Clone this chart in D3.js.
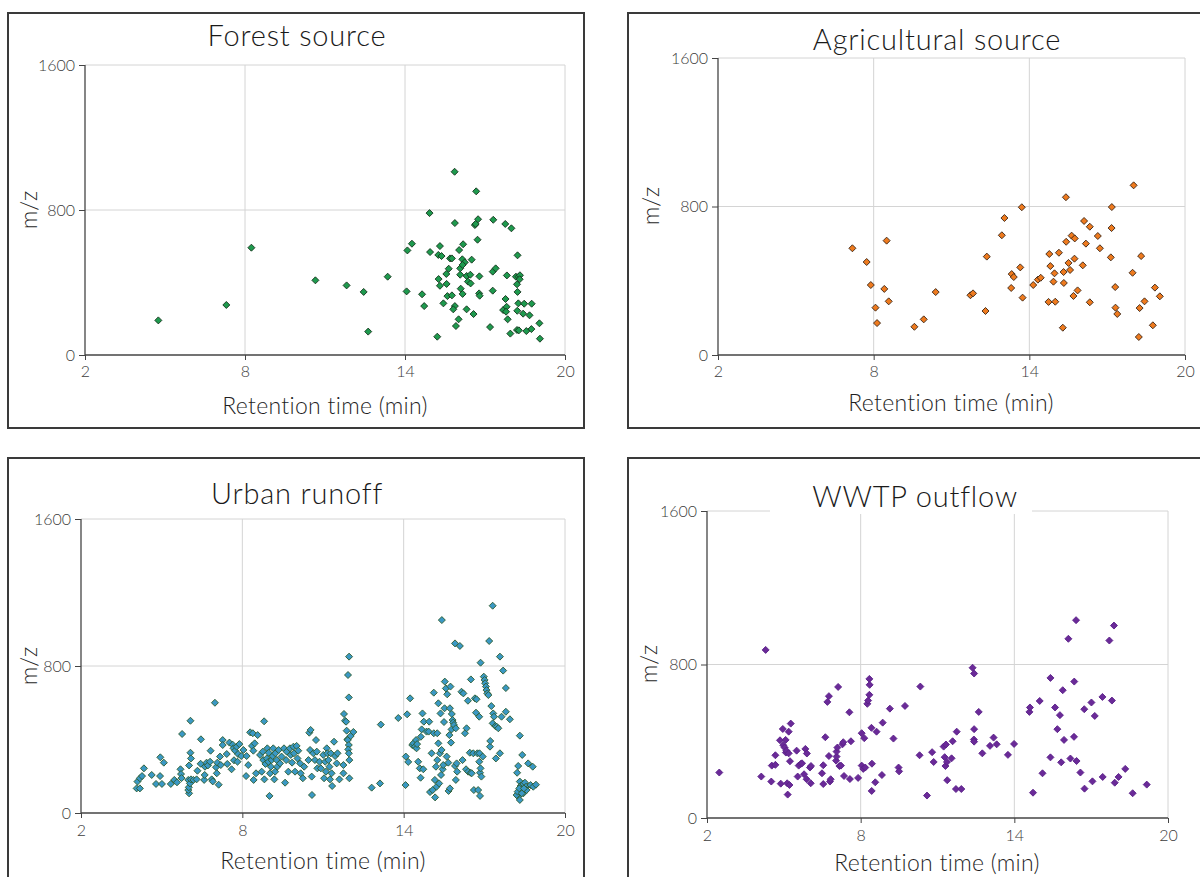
<!DOCTYPE html>
<html>
<head>
<meta charset="utf-8">
<script src="https://cdn.jsdelivr.net/npm/d3@7/dist/d3.min.js"></script>
<style>
  html, body { margin: 0; padding: 0; background: #fff; }
  svg { display: block; }
  text { font-family: Lato, "Open Sans", sans-serif; }
</style>
</head>
<body>
<svg id="chart" width="1200" height="877"></svg>
<script>
// ---------- DATA (retention time in min, m/z) ----------
const xTicks = [2, 8, 14, 20];
const yTicks = [0, 800, 1600];
const xLabel = "Retention time (min)";
const yLabel = "m/z";
const titles = ["Forest source", "Agricultural source", "Urban runoff", "WWTP outflow"];

const forestPoints = [
[4.75,191],[7.30,276],[8.24,592],[10.64,412],[11.81,384],[12.45,348],[12.62,129],[13.35,432],
[14.06,351],[14.09,577],[14.26,614],[14.64,335],[14.72,270],[14.92,783],[14.94,568],[15.21,101],
[15.26,419],[15.31,601],[15.25,552],[15.37,546],[15.31,382],[15.44,285],[15.55,447],[15.56,392],
[15.64,476],[15.59,325],[15.69,533],[15.76,533],[15.76,329],[15.86,1011],[15.87,728],[15.87,270],
[15.81,252],[15.91,160],[16.01,197],[16.03,579],[16.18,611],[16.07,478],[16.15,528],[16.24,511],
[16.16,497],[16.07,443],[16.09,366],[16.16,337],[16.31,252],[16.31,436],[16.36,405],[16.45,443],
[16.46,395],[16.50,526],[16.57,226],[16.62,717],[16.65,723],[16.67,903],[16.74,749],[16.72,636],
[16.79,434],[16.78,340],[16.80,327],[17.19,154],[17.29,460],[17.40,478],[17.29,355],[17.31,746],
[17.76,723],[17.99,699],[17.77,309],[17.82,439],[17.68,248],[17.81,266],[17.79,239],[17.85,197],
[17.95,118],[18.22,550],[18.16,432],[18.26,432],[18.31,440],[18.30,418],[18.20,390],[18.22,348],
[18.25,285],[18.47,283],[18.75,283],[18.21,244],[18.43,228],[18.67,219],[18.20,138],[18.27,136],
[18.55,132],[18.74,143],[19.04,175],[19.06,90]
];

const agriPoints = [
[7.18,575],[7.73,501],[7.89,377],[8.50,616],[8.41,356],[8.58,289],[8.07,255],[8.13,172],
[9.57,152],[9.93,192],[10.39,339],[11.73,322],[11.83,332],[12.31,237],[12.36,530],[12.94,645],
[13.04,738],[13.71,796],[13.32,436],[13.40,420],[13.30,361],[13.65,472],[13.74,309],[14.15,377],
[14.33,406],[14.44,416],[14.77,544],[14.81,479],[14.97,440],[14.93,395],[14.74,286],[15.00,287],
[15.14,551],[15.41,850],[15.42,610],[15.29,147],[15.32,447],[15.33,388],[15.51,496],[15.57,458],
[15.63,643],[15.75,628],[15.74,519],[15.70,318],[15.86,348],[16.06,483],[16.11,722],[16.18,600],
[16.33,691],[16.33,284],[16.64,641],[16.72,575],[17.14,526],[17.17,684],[17.18,797],[17.31,366],
[17.32,255],[17.39,221],[17.98,443],[18.02,914],[18.31,533],[18.25,253],[18.22,97],[18.44,289],
[18.76,160],[18.84,363],[19.03,316]
];

const urbanPoints = [
[4.07,134],[4.19,134],[4.10,171],[4.19,189],[4.27,201],[4.34,243],[4.63,207],[4.79,158],
[4.94,201],[5.01,158],[4.95,303],[5.08,274],[5.34,158],[5.47,180],[5.57,167],[5.70,238],
[5.72,212],[5.76,430],[5.74,190],[5.99,180],[6.02,107],[5.99,125],[6.01,140],[6.05,161],
[6.09,183],[6.18,180],[6.30,183],[6.07,502],[6.07,328],[6.09,297],[6.02,259],[6.33,230],
[6.45,268],[6.46,401],[6.58,180],[6.60,207],[6.61,252],[6.67,274],[6.72,259],[6.80,279],
[6.82,339],[6.86,183],[6.90,172],[6.98,600],[7.02,249],[7.05,216],[7.12,154],[7.07,274],
[7.17,307],[7.20,261],[7.27,397],[7.27,370],[7.42,321],[7.44,267],[7.52,383],[7.60,238],
[7.64,372],[7.67,352],[7.69,287],[7.73,339],[7.79,361],[7.82,279],[7.84,321],[7.89,375],
[7.96,310],[8.04,343],
[8.14,201],[8.16,310],[8.22,261],[8.29,439],[8.39,434],[8.36,365],[8.41,339],[8.42,180],
[8.46,379],[8.51,216],[8.57,424],[8.66,316],[8.72,225],[8.76,334],[8.78,288],[8.81,499],
[8.82,183],[8.86,267],[8.91,297],[8.93,352],[8.97,279],[8.98,328],[9.01,93],[9.03,216],
[9.06,252],[9.09,288],[9.13,310],[9.15,352],[9.19,183],[9.22,225],[9.23,325],[9.28,288],
[9.30,252],[9.35,343],[9.40,270],[9.46,307],[9.55,352],[9.59,165],[9.63,288],[9.65,334],
[9.71,225],[9.77,352],[9.80,316],[9.85,274],[9.90,361],[9.92,325],[9.96,225],[10.02,365],
[10.05,297],[10.08,339],[10.15,270],[10.17,216],[10.25,189],[10.30,252],[10.46,288],[10.49,437],
[10.52,343],[10.54,452],[10.58,198],[10.59,98],[10.64,325],[10.70,288],[10.74,397],[10.77,334],
[10.79,243],[10.87,279],[10.92,243],[11.01,316],[11.04,189],[11.08,279],[11.11,225],[11.14,352],
[11.16,325],[11.20,288],[11.24,252],[11.26,183],[11.29,325],[11.32,216],[11.34,147],[11.41,388],
[11.45,310],[11.51,270],[11.54,325],[11.61,183],[11.76,261],[11.78,539],[11.82,502],[11.86,497],
[11.88,448],[11.91,401],[11.92,397],[11.96,370],[11.94,346],[11.96,325],[11.98,288],[11.98,189],
[11.96,629],[11.93,751],[11.97,851],[12.03,419],[12.13,441],[11.76,216],
[12.81,138],[13.12,161],[13.15,481],[13.80,517],[14.07,152],[14.08,307],[14.13,537],[14.17,278],
[14.24,624],[14.32,370],[14.36,379],[14.42,361],[14.46,397],[14.48,352],[14.50,375],[14.54,279],
[14.60,243],[14.63,192],[14.64,415],[14.67,455],[14.70,542],[14.73,238],[14.75,497],[14.85,443],
[14.93,443],[14.95,497],[14.98,114],[15.04,325],[15.08,125],[15.12,655],[15.12,434],[15.16,180],
[15.17,85],[15.20,252],[15.22,143],[15.25,434],[15.25,288],[15.29,379],[15.29,597],[15.32,161],
[15.35,325],[15.37,542],[15.39,207],[15.41,343],[15.42,1050],[15.45,238],[15.47,261],[15.50,495],
[15.52,570],[15.53,715],[15.57,678],[15.60,307],[15.62,646],[15.66,274],[15.67,120],[15.70,424],
[15.72,570],[15.72,134],[15.74,688],[15.76,383],[15.78,455],[15.79,539],[15.82,506],[15.84,492],
[15.87,479],[15.91,923],[15.91,256],[15.94,461],[15.94,180],[15.97,270],[15.99,225],[16.09,909],
[16.15,660],[16.19,288],[16.22,651],[16.28,434],[16.32,238],[16.34,461],[16.39,611],[16.40,225],
[16.46,328],[16.49,219],[16.50,727],[16.53,216],[16.59,325],[16.61,125],[16.65,624],[16.69,546],
[16.71,619],[16.74,325],[16.77,125],[16.81,524],[16.81,279],[16.82,325],[16.84,219],[16.86,818],
[16.84,93],[16.86,243],[16.89,198],[16.94,307],[16.98,742],[17.01,724],[17.03,706],[17.06,688],
[17.08,669],[17.11,651],[17.15,642],[17.18,936],[17.21,361],[17.22,392],[17.26,582],[17.31,1128],
[17.31,488],[17.33,542],[17.36,524],[17.41,473],[17.43,297],[17.46,470],[17.52,461],[17.58,851],
[17.58,325],[17.64,524],[17.70,775],[17.80,680],[17.80,551],[17.95,510],[18.32,421],[18.41,316],
[18.26,256],[18.22,219],[18.32,171],[18.35,147],[18.39,129],[18.45,107],[18.26,89],[18.32,71],
[18.45,158],[18.51,165],[18.55,143],[18.57,125],[18.63,270],[18.72,152],[18.80,252],[18.82,143],
[18.92,154],[18.20,98],[18.24,116],[18.39,107],[18.30,134],[18.47,134]
];

const wwtpPoints = [
[2.48,237],[4.29,876],[4.12,216],[4.51,190],[4.53,273],[4.67,277],[4.67,327],[4.85,405],
[4.96,464],[4.88,179],[4.98,379],[5.03,367],[5.07,407],[5.08,341],[5.10,351],[5.13,181],
[5.19,450],[5.19,337],[5.22,172],[5.15,122],[5.27,492],[5.24,296],[5.50,351],[5.54,216],
[5.58,273],[5.66,282],[5.71,285],[5.79,228],[5.84,360],[5.89,202],[5.90,336],[6.02,263],
[6.05,181],[6.06,271],[6.49,233],[6.54,177],[6.54,275],[6.62,421],[6.70,605],[6.76,635],
[6.76,323],[6.80,190],[6.83,202],[7.04,299],[7.06,320],[7.06,346],[7.09,367],[7.12,683],
[7.17,271],[7.23,273],[7.29,384],[7.32,395],[7.35,219],[7.56,551],[7.58,203],[7.62,400],
[7.90,209],[8.04,442],[8.04,273],[8.10,256],[8.14,416],[8.18,263],[8.26,595],[8.29,612],
[8.34,642],[8.34,725],[8.35,694],[8.42,470],[8.44,283],[8.43,141],[8.57,186],[8.62,450],
[8.83,224],[8.86,497],[9.14,570],[9.28,414],[9.48,263],[9.50,243],[9.73,584],[10.30,327],
[10.33,685],[10.59,117],[10.79,343],[10.85,292],[11.24,372],[11.28,317],[11.31,271],[11.33,383],
[11.38,197],[11.37,292],[11.55,311],[11.59,400],[11.72,151],[11.93,151],[11.75,450],[12.37,783],
[12.43,753],[12.43,463],[12.42,409],[12.43,398],[12.61,553],[12.75,337],[13.05,376],[13.19,419],
[13.31,384],[13.75,329],[13.99,386],[14.59,553],[14.61,576],[14.73,132],[14.99,610],[15.10,233],
[15.41,730],[15.41,316],[15.59,576],[15.68,463],[15.78,536],[15.83,290],[15.89,666],[15.94,407],
[16.11,934],[16.19,310],[16.34,711],[16.33,423],[16.41,1031],[16.43,297],[16.58,237],[16.73,567],
[16.74,153],[17.01,602],[17.05,191],[17.14,532],[17.45,214],[17.44,631],[17.71,925],[17.81,612],
[17.89,1003],[17.92,184],[18.07,214],[18.33,256],[18.62,129],[19.17,174]
];

// ---------- LAYOUT ----------
const panels = [
  { data: forestPoints, title: titles[0], fill: "#1e9a4e", stroke: "#15331c",
    frame: [8, 13, 584, 428], plot: [85, 565, 65, 355], titleX: 297, titleY: 46,
    tickY: 381, labelX: 325, labelY: 414, yLabX: 37, yLabY: 210, titleBg: false },
  { data: agriPoints, title: titles[1], fill: "#ee7a1e", stroke: "#3a2414",
    frame: [628, 13, 1215, 428], plot: [718, 1185, 58, 355], titleX: 937, titleY: 50,
    tickY: 381, labelX: 951, labelY: 411, yLabX: 659, yLabY: 206, titleBg: false },
  { data: urbanPoints, title: titles[2], fill: "#3a98c4", stroke: "#2c5a2c",
    frame: [8, 458, 584, 890], plot: [81, 565, 519, 813], titleX: 297, titleY: 504,
    tickY: 840, labelX: 323, labelY: 869, yLabX: 37, yLabY: 666, titleBg: false },
  { data: wwtpPoints, title: titles[3], fill: "#6a2a98", stroke: "#5a2088",
    frame: [628, 458, 1215, 890], plot: [707, 1168, 511, 818], titleX: 915, titleY: 507,
    tickY: 845, labelX: 937, labelY: 871, yLabX: 657, yLabY: 664, titleBg: true }
];

const svg = d3.select("#chart");

const diamond = r => `M0,${-r}L${r},0L0,${r}L${-r},0Z`;

panels.forEach(p => {
  const g = svg.append("g");
  const [fx0, fy0, fx1, fy1] = p.frame;
  g.append("rect")
    .attr("x", fx0).attr("y", fy0)
    .attr("width", fx1 - fx0).attr("height", fy1 - fy0)
    .attr("fill", "#fff").attr("stroke", "#3a3a3a").attr("stroke-width", 2);

  const [px0, px1, py1600, py0] = p.plot;
  const x = d3.scaleLinear().domain([2, 20]).range([px0, px1]);
  const y = d3.scaleLinear().domain([0, 1600]).range([py0, py1600]);

  // gridlines
  g.append("g").selectAll("line.vg").data(xTicks.slice(1)).join("line")
    .attr("x1", d => x(d)).attr("x2", d => x(d))
    .attr("y1", y(0)).attr("y2", y(1600))
    .attr("stroke", "#d4d4d4").attr("stroke-width", 1);
  g.append("g").selectAll("line.hg").data(yTicks.slice(1)).join("line")
    .attr("x1", x(2)).attr("x2", x(20))
    .attr("y1", d => y(d)).attr("y2", d => y(d))
    .attr("stroke", "#d4d4d4").attr("stroke-width", 1);

  // axes
  const fmt = d3.format("d");
  const xAxis = d3.axisBottom(x).tickValues(xTicks).tickFormat(fmt).tickSize(5).tickPadding(6);
  const yAxis = d3.axisLeft(y).tickValues(yTicks).tickFormat(fmt).tickSize(6).tickPadding(4);
  const gx = g.append("g").attr("transform", `translate(0,${y(0)})`).call(xAxis);
  const gy = g.append("g").attr("transform", `translate(${x(2)},0)`).call(yAxis);
  [gx, gy].forEach(a => {
    a.select(".domain").attr("stroke", "#444").attr("stroke-width", 1.3);
    a.selectAll(".tick line").attr("stroke", "#444");
    a.selectAll(".tick text").attr("fill", "#3c3c3c")
      .style("font-family", "Lato, 'Open Sans', sans-serif").style("font-size", "16px")
      .style("font-weight", 300);
  });
  gx.selectAll(".tick text").attr("y", null).attr("dy", null)
    .attr("transform", `translate(0,${p.tickY - y(0) - 4})`)
    .attr("dominant-baseline", "auto");
  gx.select(".domain").attr("d", `M${x(2)},0H${x(20)}`);
  gy.select(".domain").attr("d", `M0,${y(0)}V${y(1600)}`);

  // points
  g.append("g").selectAll("path").data(p.data).join("path")
    .attr("d", diamond(3.5))
    .attr("transform", d => `translate(${x(d[0])},${y(d[1])})`)
    .attr("fill", p.fill).attr("stroke", p.stroke).attr("stroke-width", 0.9);

  // title
  if (p.titleBg) {
    g.append("rect").attr("x", p.titleX - 145).attr("y", p.titleY - 28)
      .attr("width", 262).attr("height", 35).attr("fill", "#fff");
  }
  g.append("text").attr("x", p.titleX).attr("y", p.titleY)
    .attr("text-anchor", "middle").attr("fill", "#1a1a1a")
    .style("font-size", "29px").style("font-weight", 300).style("letter-spacing", "0.8px")
    .text(p.title);

  // axis labels
  g.append("text").attr("x", p.labelX).attr("y", p.labelY)
    .attr("text-anchor", "middle").attr("fill", "#1f1f1f")
    .style("font-size", "23px").style("font-weight", 300).style("letter-spacing", "0.3px")
    .text(xLabel);
  g.append("text")
    .attr("transform", `translate(${p.yLabX},${p.yLabY}) rotate(-90)`)
    .attr("text-anchor", "middle").attr("fill", "#1f1f1f")
    .style("font-size", "23px").style("font-weight", 300)
    .text(yLabel);
});
</script>
</body>
</html>
